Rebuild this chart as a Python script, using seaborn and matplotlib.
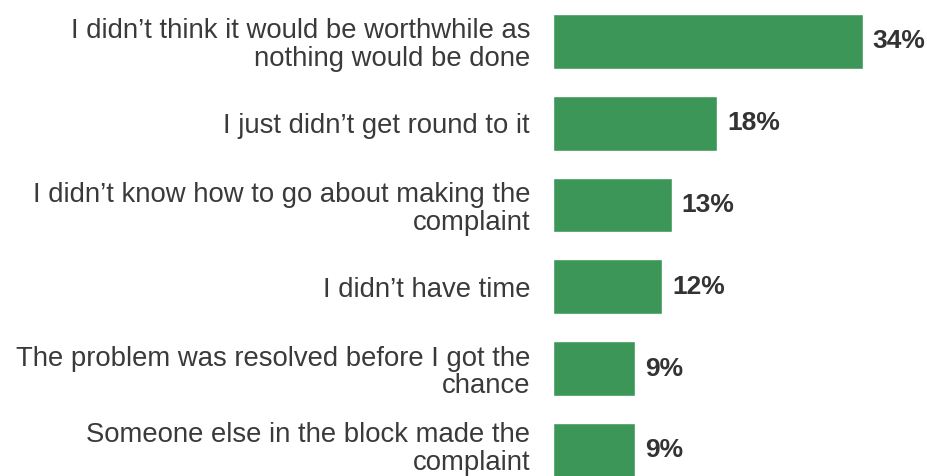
import matplotlib
matplotlib.use("Agg")
import matplotlib.pyplot as plt
import matplotlib.transforms as mtransforms
import seaborn as sns
import pandas as pd

reasons = [
    "I didn\u2019t think it would be worthwhile as\nnothing would be done",
    "I just didn\u2019t get round to it",
    "I didn\u2019t know how to go about making the\ncomplaint",
    "I didn\u2019t have time",
    "The problem was resolved before I got the\nchance",
    "Someone else in the block made the\ncomplaint",
]
shares = [34, 18, 13, 12, 9, 9]

df = pd.DataFrame({"reason": reasons, "share": shares})

sns.set_style("white")
plt.rcParams["font.family"] = ["Liberation Sans", "DejaVu Sans"]

fig = plt.figure(figsize=(9.28, 4.76), dpi=100)
ax = fig.add_axes([553 / 928, 0, 375 / 928, 1])

sns.barplot(data=df, x="share", y="reason", color="#3c9657", saturation=1,
            width=0.67, ax=ax, orient="h")

ax.set_xlim(0, 375 / 9.12)
ax.set_ylim(5.312, -0.507)
ax.set_xlabel("")
ax.set_ylabel("")
ax.set_xticks([])
for s in ax.spines.values():
    s.set_visible(False)

ax.tick_params(axis="y", length=0, pad=16.5, labelsize=19.8, labelcolor="#3a3a3a")
for lab in ax.get_yticklabels():
    lab.set_linespacing(1.08)

# nudge the bottom label up so its descenders stay inside the canvas
last_tick = ax.yaxis.get_major_ticks()[-1]
last_tick.label1.set_transform(
    last_tick.label1.get_transform()
    + mtransforms.ScaledTranslation(0, 4 / 72, fig.dpi_scale_trans)
)

ax.bar_label(ax.containers[0], labels=[f"{v}%" for v in shares], padding=7,
             fontsize=19, fontweight="bold", color="#333333")

fig.savefig("out.png", dpi=100)
